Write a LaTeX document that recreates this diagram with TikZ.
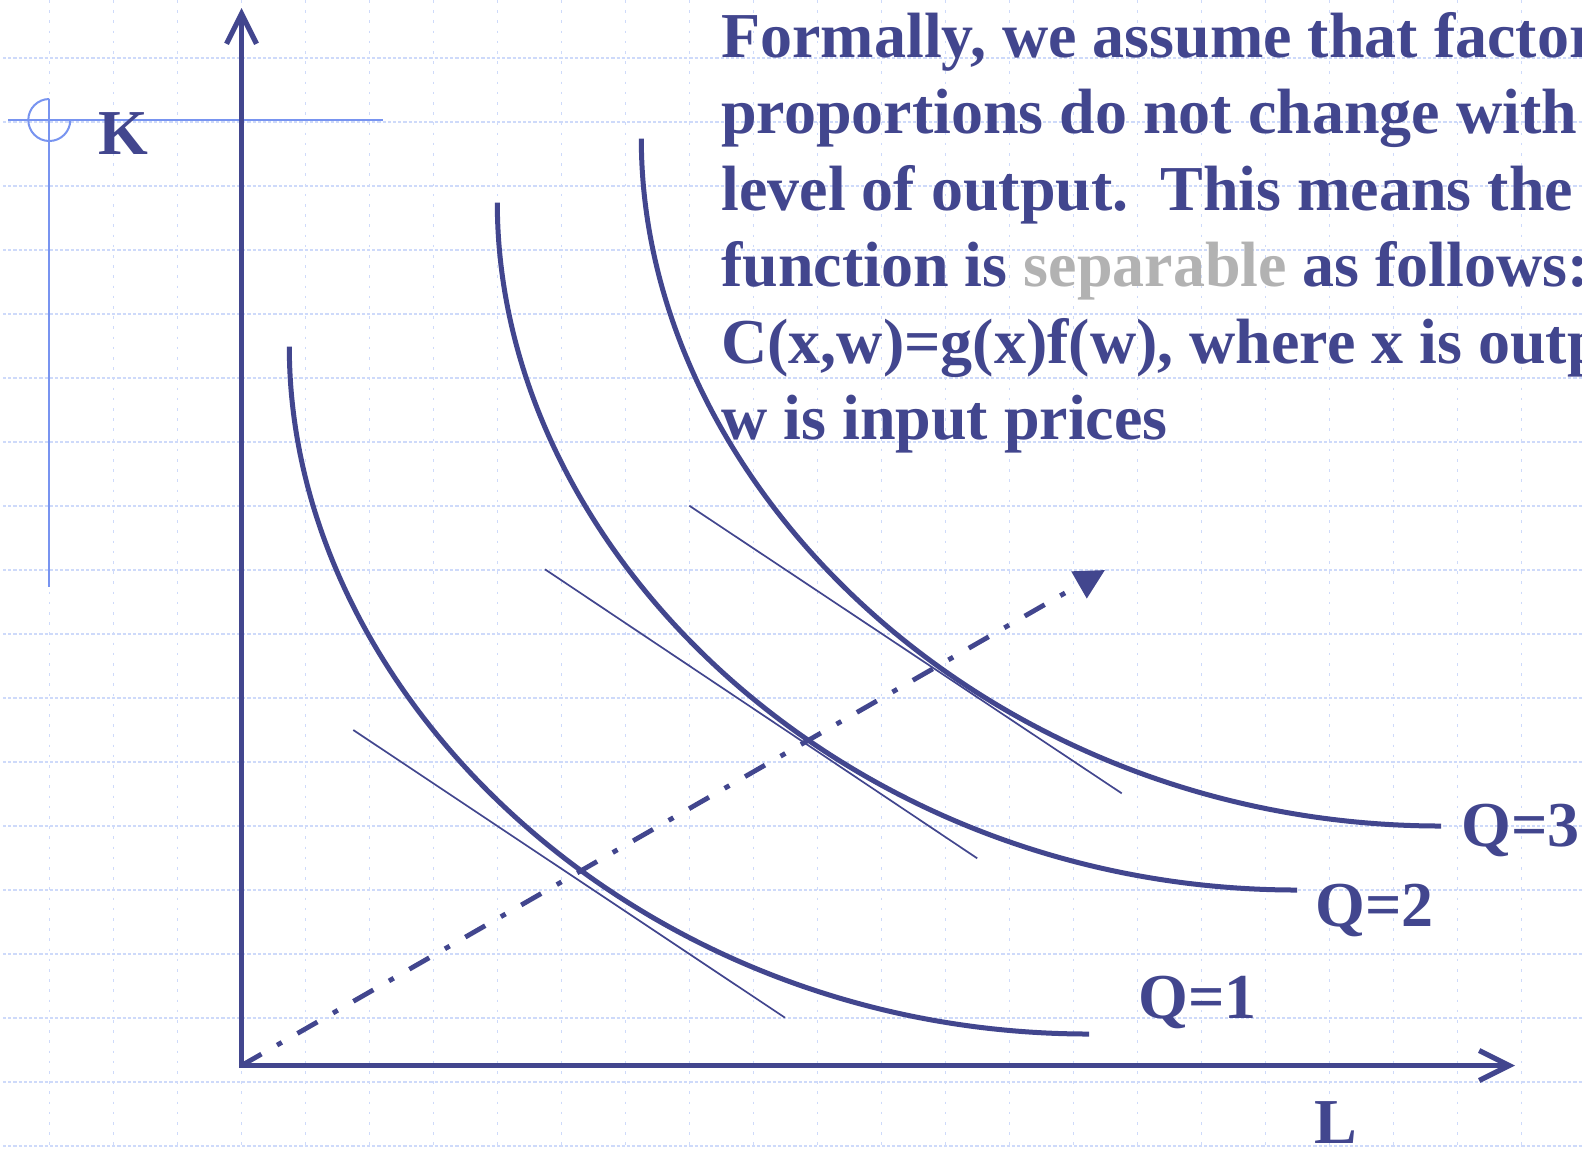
\documentclass[tikz,border=0pt]{standalone}
\usepackage{fontspec}
\setmainfont{Liberation Serif}
\usetikzlibrary{arrows.meta}
\definecolor{slate}{RGB}{66,70,142}
\definecolor{gridblue}{RGB}{206,218,250}
\definecolor{guideblue}{RGB}{120,148,240}
\definecolor{sepgray}{RGB}{178,178,178}

\begin{document}
\begin{tikzpicture}[x=0.5pt, y=-0.5pt,
  font=\fontsize{32}{38}\selectfont\bfseries,
  lbl/.style={text=slate, inner sep=0pt, anchor=base west},
  iso/.style={draw=slate, line width=2.5pt},
  tang/.style={draw=slate, line width=0.85pt},
  axis/.style={draw=slate, line width=2.6pt,
    {Straight Barb[length=15pt,width=15pt]}-{Straight Barb[length=15pt,width=15pt]}},
  hgrid/.style={draw=gridblue, line width=0.85pt, dash pattern=on 1.6pt off 1pt},
  vgrid/.style={draw=gridblue, line width=0.85pt, dash pattern=on 1.3pt off 3.8pt}]
  \useasboundingbox (0,0) rectangle (1582,1148);
  \clip (0,0) rectangle (1582,1148);
  \fill[white] (0,0) rectangle (1582,1148);
  % dotted background grid
  \foreach \k in {0,...,17} \draw[hgrid] (3,58+64*\k) -- (1582,58+64*\k);
  \foreach \k in {0,...,23} \draw[vgrid] (49.5+64*\k,0) -- (49.5+64*\k,1148);
  % guide cross
  \draw[guideblue, line width=1pt] (8,120) -- (383,120) (49.3,99) -- (49.3,587);
  \draw[guideblue, line width=1pt] (49.3,99) arc[start angle=90, end angle=360, radius=10.5pt];
  % axes
  \coordinate (o) at (241.5,1065.5);
  \coordinate (ktip) at (241.5,8);
  \coordinate (ltip) at (1515,1065.5);
  \draw[axis] (ktip) -- (o) -- (ltip);
  \node[lbl] (k) at (98,154) {K};
  \node[lbl] (l) at (1314,1143) {L};
  % isoquants
  \coordinate (q1s) at (289.3,346.7);
  \coordinate (q1e) at (1089,1034);
  \coordinate (q2s) at (497.3,202.7);
  \coordinate (q2e) at (1297,890);
  \coordinate (q3s) at (641.3,138.7);
  \coordinate (q3e) at (1441,826);
  \draw[iso] (q1s) .. controls +(0,350) and +(-450,0) .. (q1e);
  \draw[iso] (q2s) .. controls +(0,350) and +(-450,0) .. (q2e);
  \draw[iso] (q3s) .. controls +(0,350) and +(-450,0) .. (q3e);
  \node[lbl] (q1) at (1138,1018) {Q=1};
  \node[lbl] (q2) at (1315,926) {Q=2};
  \node[lbl] (q3) at (1461,846) {Q=3};
  % isocost lines
  \coordinate (t1a) at (353.3,730);
  \coordinate (t1b) at (785,1017.7);
  \coordinate (t2a) at (545,569.3);
  \coordinate (t2b) at (977.2,858.3);
  \coordinate (t3a) at (689.3,505.7);
  \coordinate (t3b) at (1121.7,793.3);
  \draw[tang] (t1a) -- (t1b);
  \draw[tang] (t2a) -- (t2b);
  \draw[tang] (t3a) -- (t3b);
  % expansion path
  \coordinate (rtip) at (1105,570);
  \draw[slate, line width=2.4pt, dash pattern=on 11.5pt off 9pt on 2.75pt off 9pt,
    -{Triangle[length=15pt,width=15pt]}] (o) -- (rtip);
  % text
  \foreach \txt [count=\i] in {{Formally, we assume that factor},
      {proportions do not change with},
      {level of output.\ \ This means the},
      {function is \textcolor{sepgray}{separable} as follows:},
      {C(x,w)=g(x)f(w), where x is output},
      {w is input prices}}
    \node[lbl] (line\i) at (721,-19.5+76.5*\i) {\txt};
\end{tikzpicture}
\end{document}
